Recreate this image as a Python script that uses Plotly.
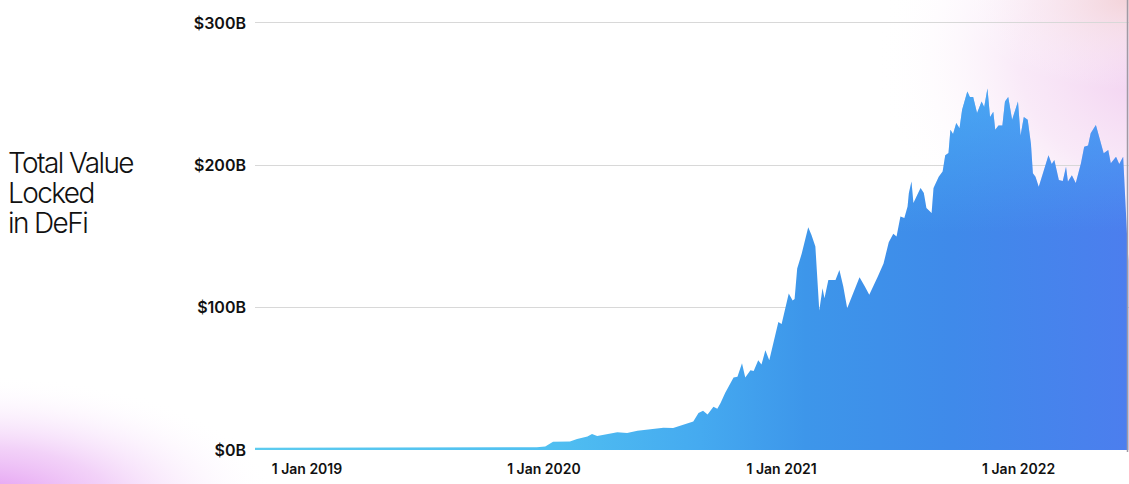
import base64
import plotly.graph_objects as go

# ---------------- data ----------------
dates = [
    "2018-10-13", "2018-12-21", "2019-05-24", "2019-10-25", "2019-12-21",
    "2020-01-03", "2020-01-15", "2020-02-10", "2020-02-21", "2020-03-08",
    "2020-03-15", "2020-03-23", "2020-04-07", "2020-04-23", "2020-05-08",
    "2020-05-24", "2020-06-13", "2020-07-03", "2020-07-18", "2020-08-03",
    "2020-08-18", "2020-08-26", "2020-09-02", "2020-09-09", "2020-09-18",
    "2020-09-24", "2020-09-29", "2020-10-06", "2020-10-11", "2020-10-19",
    "2020-10-25", "2020-11-01", "2020-11-06", "2020-11-14", "2020-11-19",
    "2020-11-26", "2020-12-01", "2020-12-07", "2020-12-13", "2020-12-27",
    "2021-01-01", "2021-01-12", "2021-01-18", "2021-01-21", "2021-01-25",
    "2021-02-01", "2021-02-11", "2021-02-16", "2021-02-22", "2021-02-28",
    "2021-03-05", "2021-03-08", "2021-03-14", "2021-03-25", "2021-03-31",
    "2021-04-06", "2021-04-12", "2021-04-20", "2021-05-01", "2021-05-09",
    "2021-05-16", "2021-05-29", "2021-06-07", "2021-06-15", "2021-06-22",
    "2021-06-27", "2021-07-03", "2021-07-09", "2021-07-14", "2021-07-16",
    "2021-07-20", "2021-07-23", "2021-07-30", "2021-08-03", "2021-08-08",
    "2021-08-12", "2021-08-20", "2021-08-23", "2021-08-31", "2021-09-06",
    "2021-09-10", "2021-09-15", "2021-09-18", "2021-09-22", "2021-09-27",
    "2021-10-02", "2021-10-06", "2021-10-14", "2021-10-18", "2021-10-23",
    "2021-10-29", "2021-11-05", "2021-11-09", "2021-11-14", "2021-11-18",
    "2021-11-23", "2021-11-26", "2021-12-01", "2021-12-07", "2021-12-11",
    "2021-12-16", "2021-12-22", "2021-12-31", "2022-01-04", "2022-01-09",
    "2022-01-15", "2022-01-20", "2022-01-23", "2022-01-27", "2022-02-01",
    "2022-02-09", "2022-02-16", "2022-02-21", "2022-02-25", "2022-03-04",
    "2022-03-10", "2022-03-15", "2022-03-18", "2022-03-24", "2022-03-30",
    "2022-04-07", "2022-04-12", "2022-04-18", "2022-04-22", "2022-04-30",
    "2022-05-08", "2022-05-12", "2022-05-19", "2022-05-23", "2022-05-31",
    "2022-06-05", "2022-06-11", "2022-06-14", "2022-06-19",
]
tvl_billions = [
    1.6, 1.6, 1.7, 1.8, 1.9,
    2.5, 5.8, 6.0, 7.7, 9.4,
    11.2, 9.8, 11.0, 12.4, 11.9,
    13.5, 14.5, 15.7, 15.5, 18.0,
    20.0, 26.0, 27.6, 25.0, 30.4,
    29.0, 33.0, 40.0, 44.5, 51.0,
    51.5, 61.0, 51.0, 56.0, 55.5,
    63.0, 60.0, 70.0, 63.0, 90.0,
    88.5, 110.0, 105.0, 106.0, 127.6,
    138.0, 156.5, 151.0, 143.0, 98.0,
    113.6, 106.6, 119.5, 119.5, 126.5,
    114.8, 99.6, 109.0, 121.4, 115.0,
    109.0, 121.8, 131.0, 146.0, 152.0,
    150.0, 164.0, 163.0, 171.0, 180.6,
    188.6, 173.6, 180.6, 184.0, 180.6,
    170.0, 166.5, 184.0, 192.0, 195.6,
    207.0, 208.7, 225.0, 222.0, 229.8,
    226.0, 239.0, 251.8, 248.0, 248.0,
    236.8, 244.8, 241.0, 254.0, 234.0,
    237.7, 225.0, 228.0, 228.0, 244.8,
    248.0, 232.0, 244.8, 221.0, 234.0,
    232.0, 215.0, 194.4, 192.0, 185.0,
    196.8, 207.0, 201.0, 203.8, 189.7,
    189.0, 199.0, 188.6, 193.0, 187.5,
    201.5, 213.0, 214.0, 222.5, 228.4,
    215.5, 208.5, 210.8, 201.5, 206.0,
    201.0, 206.0, 180.0, 133.0,
]
x_tick_dates = ["2019-01-01", "2020-01-01", "2021-01-01", "2022-01-01"]
x_tick_text = ["1 Jan 2019", "1 Jan 2020", "1 Jan 2021", "1 Jan 2022"]
y_tick_vals = [0, 100, 200, 300]
y_tick_text = ["$0B", "$100B", "$200B", "$300B"]
label_lines = ["Total Value", "Locked", "in DeFi"]

# ---------------- layout geometry ----------------
W, H = 1129, 484
ML, MR, MT, MB = 255, 0, 20, 34
PW, PH = W - ML - MR, H - MT - MB

# background glow (top-right pink, bottom-left violet)
svg = f'''<svg xmlns="http://www.w3.org/2000/svg" width="{W}" height="{H}" viewBox="0 0 {W} {H}">
<defs>
<radialGradient id="bl" cx="0.5" cy="0.5" r="0.5">
<stop offset="0" stop-color="#e08ef0" stop-opacity="1"/>
<stop offset="0.45" stop-color="#eab4f4" stop-opacity="0.6"/>
<stop offset="1" stop-color="#ffffff" stop-opacity="0"/>
</radialGradient>
<radialGradient id="tr" cx="0.5" cy="0.5" r="0.5">
<stop offset="0" stop-color="#f0c8ee" stop-opacity="0.95"/>
<stop offset="0.5" stop-color="#f4d8f2" stop-opacity="0.55"/>
<stop offset="1" stop-color="#ffffff" stop-opacity="0"/>
</radialGradient>
<radialGradient id="pc" cx="0.5" cy="0.5" r="0.5">
<stop offset="0" stop-color="#f3d2d6" stop-opacity="0.9"/>
<stop offset="1" stop-color="#ffffff" stop-opacity="0"/>
</radialGradient>
</defs>
<ellipse cx="-20" cy="505" rx="300" ry="130" fill="url(#bl)"/>
<ellipse cx="1165" cy="60" rx="290" ry="240" fill="url(#tr)"/>
<ellipse cx="1129" cy="0" rx="170" ry="90" fill="url(#pc)"/>
</svg>'''
svg_uri = "data:image/svg+xml;base64," + base64.b64encode(svg.encode()).decode()

fig = go.Figure()

fig.add_trace(go.Scatter(
    x=dates, y=tvl_billions, mode="lines", fill="tozeroy",
    line=dict(width=0, color="#4a9cec"),
    fillgradient=dict(
        type="horizontal",
        colorscale=[
            [0.0, "#5ccbef"], [0.33, "#50c0f1"], [0.51, "#45aaf0"],
            [0.63, "#3d96ea"], [0.80, "#3f8aea"], [1.0, "#4c7eee"],
        ],
    ),
    hoverinfo="skip", showlegend=False,
))
fig.add_trace(go.Scatter(
    x=dates, y=tvl_billions, mode="lines", fill="tozeroy",
    line=dict(width=0, color="rgba(0,0,0,0)"),
    fillgradient=dict(
        type="vertical",
        colorscale=[
            [0.0, "rgba(80,190,250,0)"], [0.6, "rgba(80,190,250,0)"],
            [1.0, "rgba(80,190,250,0.55)"],
        ],
    ),
    hoverinfo="skip", showlegend=False,
))

# one multi-line text: line pitch follows the 23px base font (1.3em ~ 30px),
# glyphs are drawn at 28px through the inline span style
label_html = "<br>".join(
    f'<span style="font-size:28px;letter-spacing:-1.6px">{t}</span>' for t in label_lines
)
annotations = [dict(
    xref="paper", yref="paper",
    x=(7 - ML) / PW, y=1 - (192.5 - MT) / PH,
    xanchor="left", yanchor="middle", showarrow=False, align="left",
    borderpad=0, text=label_html,
    font=dict(family="Inter", size=23, color="#111111", weight=300),
)]

fig.update_layout(
    width=W, height=H,
    margin=dict(l=ML, r=MR, t=MT, b=MB, pad=0),
    paper_bgcolor="white", plot_bgcolor="rgba(0,0,0,0)",
    showlegend=False,
    annotations=annotations,
    shapes=[dict(
        type="line", xref="paper", yref="paper",
        x0=(PW - 1.5) / PW, x1=(PW - 1.5) / PW,
        y0=-2 / PH, y1=1 + MT / PH,
        line=dict(color="#a09aa4", width=1.5), layer="above",
    )],
    images=[dict(
        source=svg_uri, xref="paper", yref="paper",
        x=-ML / PW, y=1 + MT / PH, sizex=W / PW, sizey=H / PH,
        xanchor="left", yanchor="top", sizing="stretch", layer="below",
    )],
    xaxis=dict(
        type="date", range=["2018-10-13", "2022-06-20"],
        tickvals=x_tick_dates, ticktext=x_tick_text,
        showgrid=False, zeroline=False, showline=False, ticks="",
        ticklabelstandoff=9,
        tickfont=dict(family="Inter", size=14, color="#111111", weight=600),
    ),
    yaxis=dict(
        range=[0, 302.1],
        tickvals=y_tick_vals, ticktext=y_tick_text,
        showgrid=True, gridcolor="#d8d8d8", gridwidth=1,
        zeroline=False, showline=False, ticks="",
        ticklabelstandoff=8,
        tickfont=dict(family="Inter", size=16, color="#111111", weight=600),
    ),
)

fig.write_html(
    "out.html",
    config={"displayModeBar": False, "staticPlot": True},
    post_script="document.body.style.margin='0';document.body.style.overflow='hidden';",
)
